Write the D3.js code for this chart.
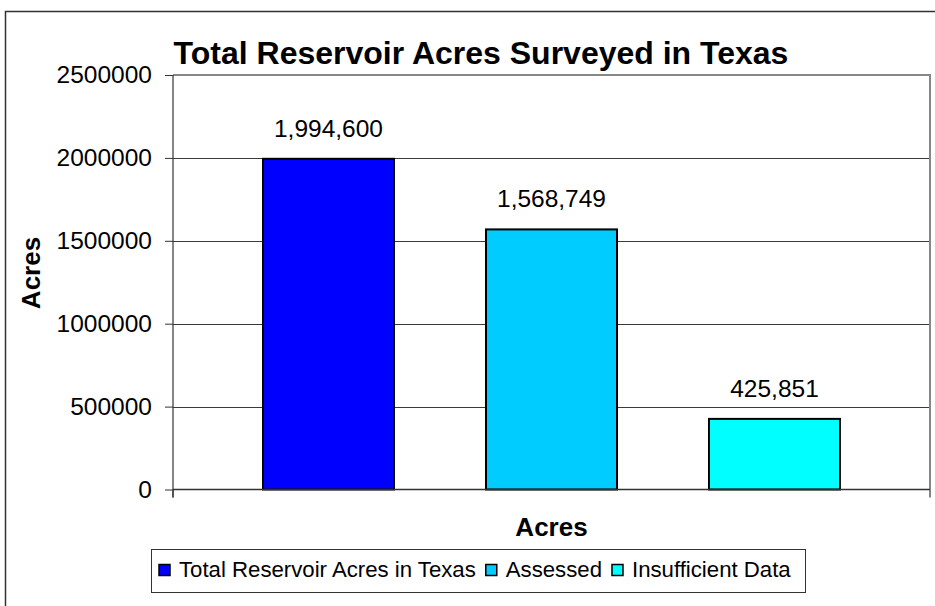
<!DOCTYPE html>
<html>
<head>
<meta charset="utf-8">
<script src="https://cdn.jsdelivr.net/npm/d3@7"></script>
<style>
  html, body { margin: 0; padding: 0; background: #fff; }
  svg { display: block; font-family: Arial, "Liberation Sans", sans-serif; }
</style>
</head>
<body>
<svg id="chart" width="935" height="606"></svg>
<script>
// ---- data ----
const seriesNames = ["Total Reservoir Acres in Texas", "Assessed", "Insufficient Data"];
const seriesValues = [1994600, 1568749, 425851];
const seriesColors = ["#0000FF", "#00CCFF", "#00FFFF"];
const yTicks = [0, 500000, 1000000, 1500000, 2000000, 2500000];
const titleText = "Total Reservoir Acres Surveyed in Texas";
const yAxisTitle = "Acres";
const xAxisTitle = "Acres";

// ---- layout ----
const plot = { left: 173, right: 930, top: 75, bottom: 489.5 };
const svg = d3.select("#chart");

// outer chart border
svg.append("rect")
  .attr("x", 5.5).attr("y", 11.5)
  .attr("width", 960).attr("height", 640)
  .attr("fill", "#fff").attr("stroke", "#333").attr("stroke-width", 1.5);

const y = d3.scaleLinear().domain([0, 2500000]).range([plot.bottom, plot.top]);
const x = d3.scaleBand().domain(seriesNames)
  .range([plot.left, plot.right])
  .paddingInner(0.4126).paddingOuter(0.4036);

// gridlines (not top, not zero)
svg.append("g").selectAll("line")
  .data(yTicks.filter(t => t > 0 && t < 2500000))
  .join("line")
  .attr("x1", plot.left).attr("x2", plot.right)
  .attr("y1", d => Math.round(y(d)) + 0.5).attr("y2", d => Math.round(y(d)) + 0.5)
  .attr("stroke", "#3a3a3a").attr("stroke-width", 1);

// plot area border (top & right, gray)
svg.append("path")
  .attr("d", `M${plot.left},${plot.top} H${plot.right} V${plot.bottom}`)
  .attr("fill", "none").attr("stroke", "#888").attr("stroke-width", 2);

// y axis
const yAxis = d3.axisLeft(y).tickValues(yTicks).tickFormat(d3.format("d"))
  .tickSize(8).tickSizeOuter(0).tickPadding(13);
const gy = svg.append("g").attr("transform", `translate(${plot.left},0)`).call(yAxis);
gy.select(".domain").remove();
gy.selectAll(".tick line").attr("stroke", "#333");
gy.selectAll(".tick text").attr("font-size", 24.5).attr("fill", "#000")
  .attr("font-family", "Arial, 'Liberation Sans', sans-serif");
svg.append("line")
  .attr("x1", plot.left).attr("x2", plot.left)
  .attr("y1", plot.top).attr("y2", plot.bottom + 8)
  .attr("stroke", "#333").attr("stroke-width", 1.2);

// bars
svg.append("g").selectAll("rect")
  .data(seriesNames)
  .join("rect")
  .attr("x", d => x(d))
  .attr("y", (d, i) => y(seriesValues[i]))
  .attr("width", x.bandwidth())
  .attr("height", (d, i) => y(0) - y(seriesValues[i]))
  .attr("fill", (d, i) => seriesColors[i])
  .attr("stroke", "#000").attr("stroke-width", 2);

// category axis (zero line) with end ticks
svg.append("line")
  .attr("x1", plot.left).attr("x2", plot.right)
  .attr("y1", y(0)).attr("y2", y(0))
  .attr("stroke", "#333").attr("stroke-width", 1.5);
svg.append("g").selectAll("line")
  .data(x.range())
  .join("line")
  .attr("x1", d => d).attr("x2", d => d)
  .attr("y1", y(0)).attr("y2", y(0) + 8)
  .attr("stroke", "#333").attr("stroke-width", 1.2);

// data labels
const fmt = d3.format(",");
svg.append("g").selectAll("text")
  .data(seriesNames)
  .join("text")
  .attr("x", d => x(d) + x.bandwidth() / 2)
  .attr("y", (d, i) => y(seriesValues[i]) - 22)
  .attr("text-anchor", "middle")
  .attr("font-size", 24.5)
  .text((d, i) => fmt(seriesValues[i]));

// title
svg.append("text")
  .attr("x", 481).attr("y", 64)
  .attr("text-anchor", "middle")
  .attr("font-size", 32).attr("font-weight", "bold")
  .text(titleText);

// y-axis title
svg.append("text")
  .attr("transform", `translate(40,273) rotate(-90)`)
  .attr("text-anchor", "middle")
  .attr("font-size", 26).attr("font-weight", "bold")
  .text(yAxisTitle);

// x-axis title
svg.append("text")
  .attr("x", (plot.left + plot.right) / 2).attr("y", 536)
  .attr("text-anchor", "middle")
  .attr("font-size", 26).attr("font-weight", "bold")
  .text(xAxisTitle);

// legend
const lg = svg.append("g");
lg.append("rect")
  .attr("x", 151.5).attr("y", 549.5)
  .attr("width", 654).attr("height", 43)
  .attr("fill", "#fff").attr("stroke", "#333").attr("stroke-width", 1);
let cx = 159;
seriesNames.forEach((name, i) => {
  lg.append("rect")
    .attr("x", cx).attr("y", 564.5)
    .attr("width", 11).attr("height", 11)
    .attr("fill", seriesColors[i]).attr("stroke", "#000").attr("stroke-width", 1.5);
  const t = lg.append("text")
    .attr("x", cx + 20).attr("y", 577)
    .attr("font-size", 22.2)
    .text(name);
  cx = cx + 20 + t.node().getComputedTextLength() + 10;
});
</script>
</body>
</html>
